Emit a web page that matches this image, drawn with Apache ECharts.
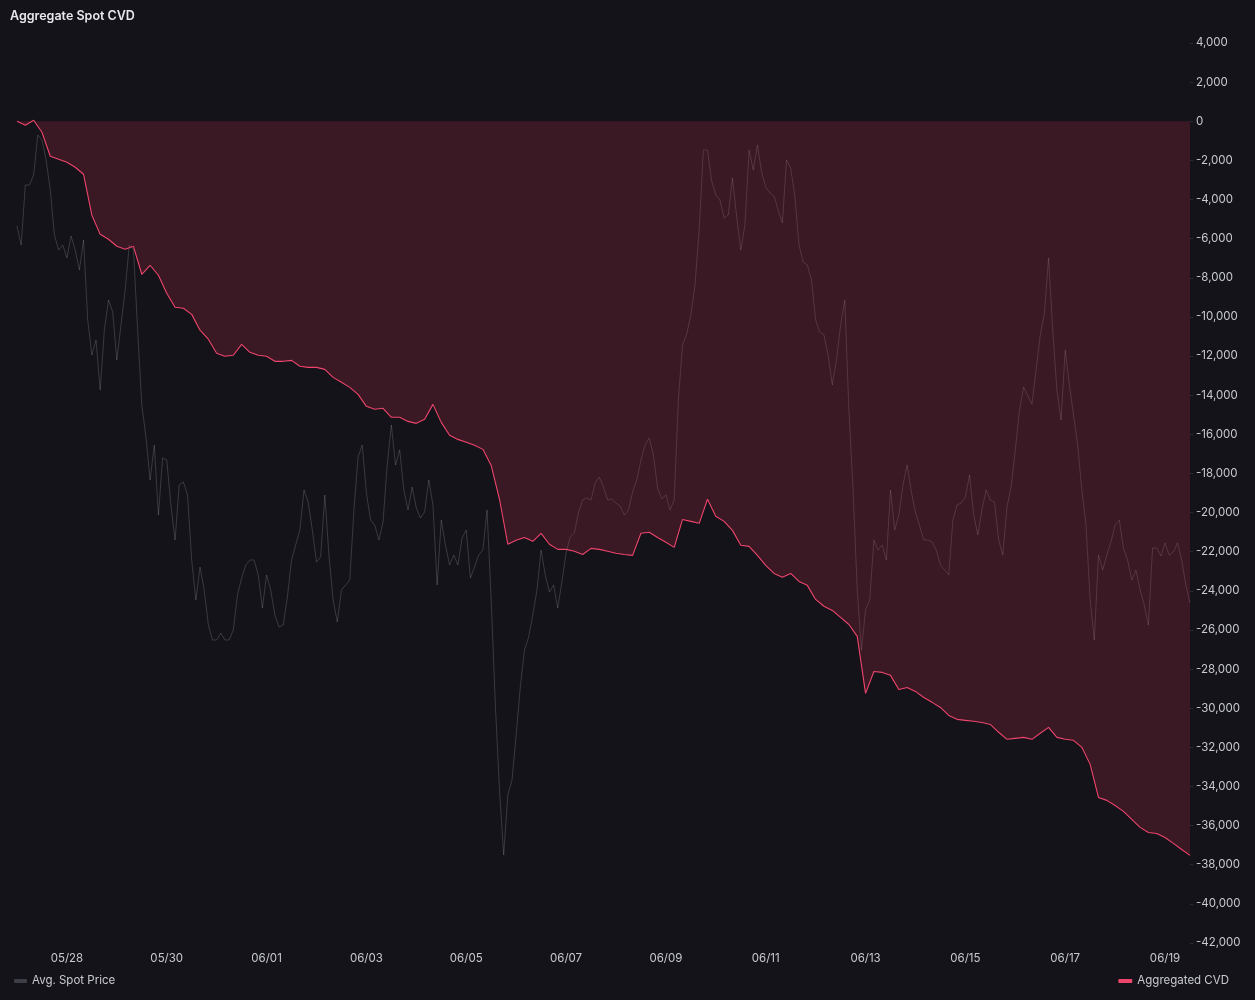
<!DOCTYPE html>
<html>
<head>
<meta charset="utf-8">
<title>Aggregate Spot CVD</title>
<script src="https://cdn.jsdelivr.net/npm/echarts@6/dist/echarts.min.js"></script>
<style>
  html, body { margin: 0; padding: 0; background: #131319; }
  #chart { width: 1255px; height: 1000px; }
</style>
</head>
<body>
<div id="chart"></div>
<script>
// time range of the chart (UTC)
var startTime = Date.UTC(2025, 4, 27, 0, 0);
var endTime = Date.UTC(2025, 5, 19, 12, 0);
var HOUR = 3600 * 1000;
var DAY = 24 * HOUR;

// Aggregated CVD, one reading every 4 hours from 05/27 00:00
var cvdStepHours = 4;
var cvdValues = [
    0, -200, 50, -560, -1790, -1940, -2100, -2350, -2710, -4800,
    -5780, -6030, -6390, -6540, -6390, -7820, -7360, -7870, -8790, -9510,
    -9560, -9870, -10680, -11140, -11860, -12010, -11960, -11400, -11810, -11960,
    -12010, -12270, -12270, -12220, -12520, -12580, -12580, -12680, -13090, -13340,
    -13600, -13960, -14570, -14720, -14670, -15130, -15130, -15340, -15440, -15230,
    -14470, -15390, -16050, -16260, -16410, -16560, -16770, -17590, -19320, -21620,
    -21420, -21270, -21470, -21060, -21620, -21880, -21880, -21980, -22140, -21830,
    -21880, -21980, -22080, -22140, -22190, -21060, -21010, -21270, -21520, -21780,
    -20350, -20450, -20550, -19320, -20190, -20450, -20910, -21670, -21730, -22190,
    -22700, -23110, -23310, -23110, -23520, -23720, -24440, -24790, -25000, -25360,
    -25720, -26330, -29240, -28120, -28170, -28320, -29040, -28940, -29140, -29450,
    -29700, -29960, -30370, -30570, -30620, -30670, -30730, -30830, -31230, -31590,
    -31540, -31490, -31590, -31280, -30980, -31490, -31590, -31640, -32000, -32870,
    -34560, -34710, -34970, -35270, -35680, -36090, -36350, -36400, -36610, -36910,
    -37220, -37520
];

// Avg. spot price, one reading every 2 hours from 05/27 00:00 (own hidden axis)
var priceStepHours = 2;
var priceValues = [
    2817, 2798, 2858, 2858, 2868, 2908, 2903, 2883, 2853, 2808,
    2793, 2798, 2785, 2807, 2793, 2773, 2803, 2723, 2688, 2703,
    2653, 2713, 2743, 2731, 2683, 2718, 2753, 2798, 2793, 2713,
    2638, 2606, 2563, 2598, 2528, 2585, 2583, 2538, 2503, 2558,
    2561, 2548, 2483, 2443, 2476, 2453, 2418, 2403, 2403, 2410,
    2403, 2403, 2413, 2448, 2465, 2478, 2483, 2483, 2468, 2435,
    2468, 2453, 2428, 2416, 2418, 2446, 2483, 2498, 2513, 2553,
    2541, 2513, 2481, 2486, 2548, 2488, 2443, 2421, 2453, 2458,
    2463, 2533, 2586, 2598, 2550, 2523, 2518, 2503, 2521, 2578,
    2618, 2578, 2593, 2553, 2533, 2556, 2535, 2525, 2531, 2563,
    2538, 2458, 2523, 2498, 2478, 2488, 2478, 2505, 2513, 2465,
    2476, 2488, 2493, 2533, 2443, 2338, 2253, 2188, 2248, 2263,
    2308, 2356, 2393, 2406, 2428, 2453, 2493, 2468, 2451, 2458,
    2435, 2461, 2490, 2506, 2510, 2531, 2543, 2545, 2543, 2560,
    2566, 2556, 2543, 2544, 2540, 2537, 2528, 2533, 2551, 2563,
    2583, 2598, 2605, 2588, 2555, 2544, 2548, 2533, 2543, 2643,
    2698, 2709, 2728, 2758, 2813, 2893, 2893, 2862, 2848, 2843,
    2825, 2828, 2865, 2827, 2793, 2818, 2893, 2873, 2898, 2871,
    2856, 2850, 2847, 2833, 2820, 2883, 2875, 2847, 2798, 2781,
    2778, 2763, 2723, 2711, 2708, 2688, 2658, 2683, 2718, 2743,
    2633, 2553, 2453, 2393, 2433, 2443, 2503, 2493, 2498, 2483,
    2553, 2513, 2528, 2558, 2578, 2551, 2531, 2517, 2503, 2503,
    2501, 2493, 2478, 2473, 2468, 2523, 2538, 2540, 2546, 2568,
    2528, 2508, 2534, 2553, 2543, 2541, 2503, 2488, 2536, 2556,
    2593, 2633, 2656, 2647, 2639, 2673, 2708, 2730, 2785, 2713,
    2653, 2623, 2693, 2658, 2628, 2598, 2553, 2518, 2443, 2403,
    2488, 2473, 2488, 2501, 2518, 2523, 2495, 2483, 2463, 2473,
    2453, 2438, 2418, 2495, 2495, 2487, 2500, 2488, 2491, 2500,
    2483, 2458, 2440
];

// axis settings
var cvdMin = -42000, cvdMax = 4000, cvdInterval = 2000;
var priceMin = 2100, priceMax = 3000;
var labelEveryDays = 2;
var firstLabelDay = Date.UTC(2025, 4, 28);

function toSeries(values, stepHours) {
    return values.map(function (v, i) {
        return [startTime + i * stepHours * HOUR, v];
    });
}

function pad(n) {
    return n < 10 ? '0' + n : '' + n;
}

var chart = echarts.init(document.getElementById('chart'));

var option = {
    backgroundColor: '#131319',
    animation: false,
    textStyle: { fontFamily: 'Inter, "Noto Sans", sans-serif' },
    title: {
        text: 'Aggregate Spot CVD',
        left: 5,
        top: 5,
        textStyle: { color: '#e8e8ec', fontSize: 12.5, fontWeight: 600 }
    },
    legend: [
        {
            data: ['Avg. Spot Price'],
            left: 9,
            bottom: 8,
            icon: 'roundRect',
            itemWidth: 13,
            itemHeight: 4,
            itemGap: 10,
            textStyle: { color: '#c9c9d1', fontSize: 11.5 }
        },
        {
            data: ['Aggregated CVD'],
            right: 21,
            bottom: 8,
            icon: 'roundRect',
            itemWidth: 14,
            itemHeight: 4,
            textStyle: { color: '#c9c9d1', fontSize: 11.5 }
        }
    ],
    grid: {
        left: 17,
        right: 65,
        top: 43,
        bottom: 57,
        containLabel: false
    },
    xAxis: {
        type: 'value',
        min: startTime,
        max: endTime,
        interval: DAY,
        axisLine: { show: false },
        axisTick: { show: false },
        splitLine: { show: false },
        axisLabel: {
            color: '#c9c9d1',
            fontSize: 11.5,
            margin: 10,
            showMinLabel: false,
            showMaxLabel: false,
            formatter: function (val) {
                var diff = Math.round(val - firstLabelDay);
                if (diff < 0 || diff % (labelEveryDays * DAY) !== 0) return '';
                var d = new Date(val);
                return pad(d.getUTCMonth() + 1) + '/' + pad(d.getUTCDate());
            }
        }
    },
    yAxis: [
        {
            type: 'value',
            position: 'right',
            min: cvdMin,
            max: cvdMax,
            interval: cvdInterval,
            axisLine: { show: false },
            axisTick: { show: true, length: 3, lineStyle: { color: '#2c2c34' } },
            splitLine: { show: false },
            axisLabel: {
                color: '#c9c9d1',
                fontSize: 11.5,
                margin: 6,
                formatter: function (v) {
                    return v.toLocaleString('en-US');
                }
            }
        },
        {
            type: 'value',
            show: false,
            min: priceMin,
            max: priceMax,
            splitLine: { show: false }
        }
    ],
    series: [
        {
            name: 'Avg. Spot Price',
            type: 'line',
            yAxisIndex: 1,
            data: toSeries(priceValues, priceStepHours),
            showSymbol: false,
            symbol: 'none',
            color: '#3d3d45',
            lineStyle: { color: 'rgba(255, 255, 255, 0.16)', width: 1 },
            z: 2
        },
        {
            name: 'Aggregated CVD',
            type: 'line',
            yAxisIndex: 0,
            data: toSeries(cvdValues, cvdStepHours),
            showSymbol: false,
            symbol: 'none',
            color: '#ee456c',
            lineStyle: { color: '#ee456c', width: 1.1 },
            areaStyle: { color: 'rgba(175, 39, 73, 0.25)', opacity: 1, origin: 0 },
            z: 3
        }
    ]
};

chart.setOption(option);
</script>
</body>
</html>
